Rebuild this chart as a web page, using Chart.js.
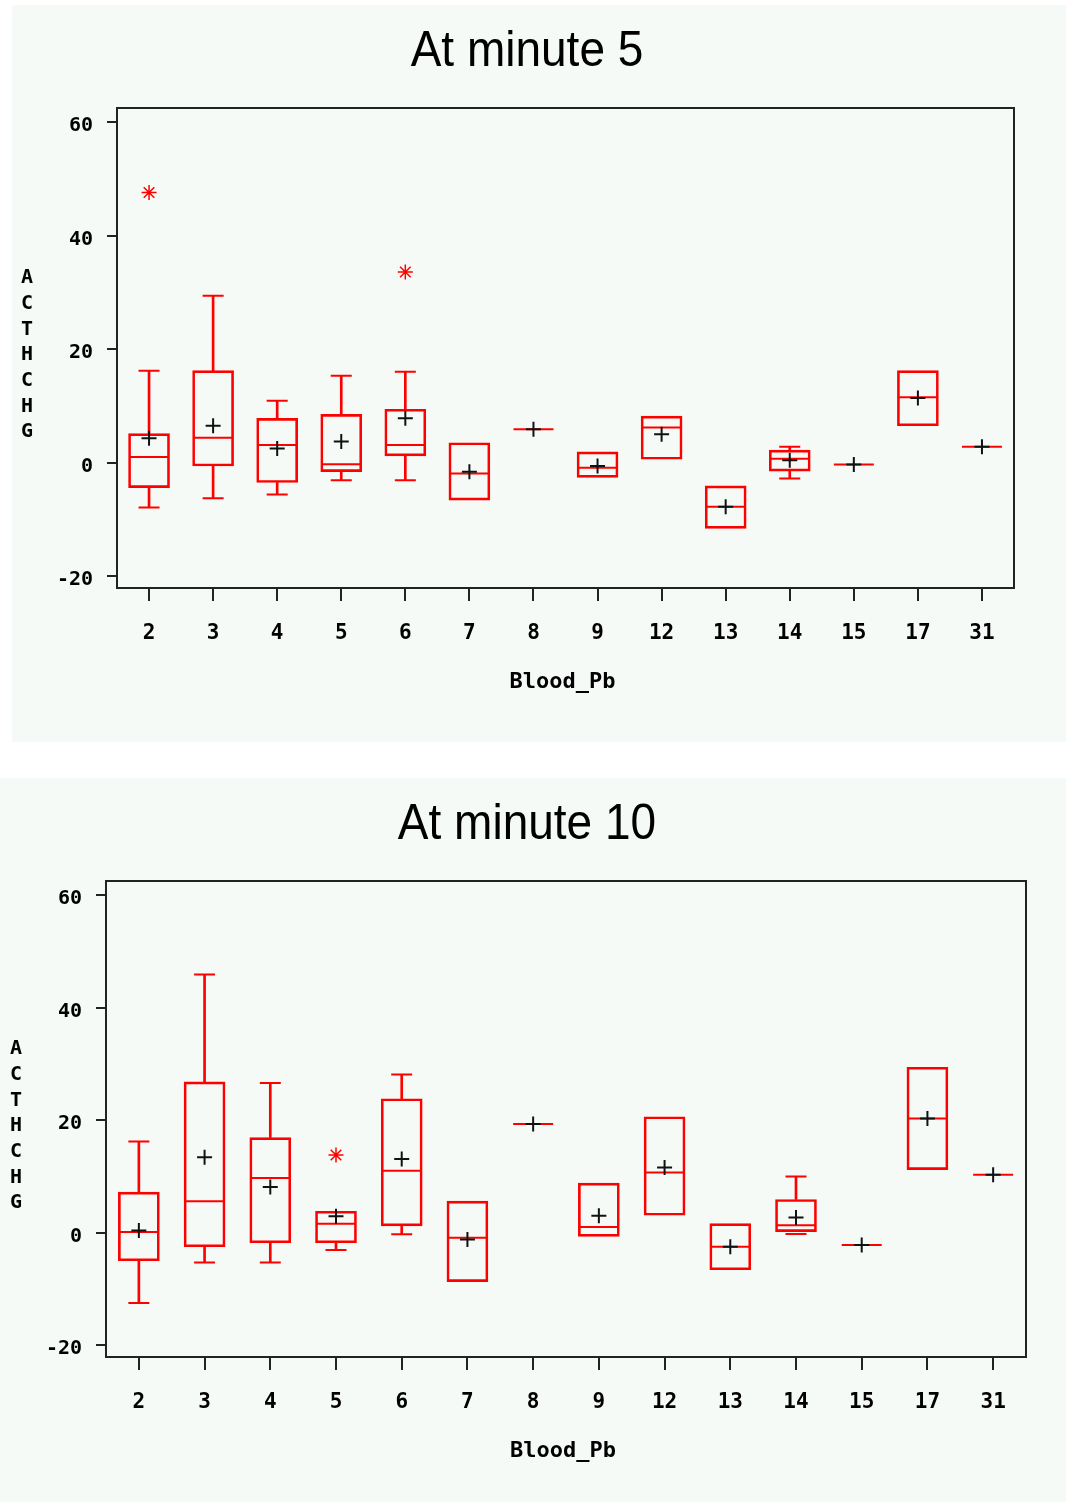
<!DOCTYPE html>
<html>
<head>
<meta charset="utf-8">
<title>ACTHCHG by Blood_Pb</title>
<script src="https://cdn.jsdelivr.net/npm/chart.js@4.4.1/dist/chart.umd.min.js"></script>
<style>
  html, body { margin: 0; padding: 0; background: #fff; }
  body { position: relative; width: 1066px; height: 1502px; overflow: hidden; }
  .panel { position: absolute; background: #f5faf7; }
  #panel5 { left: 12px; top: 5px; width: 1054px; height: 737px; }
  #panel10 { left: 0; top: 778px; width: 1066px; height: 724px; }
  canvas { display: block; }
</style>
</head>
<body>
<div class="panel" id="panel5"><canvas id="chart5" width="1054" height="737"></canvas></div>
<div class="panel" id="panel10"><canvas id="chart10" width="1066" height="724"></canvas></div>
<script>
// Blood lead groups on the x axis
const categories = ['2', '3', '4', '5', '6', '7', '8', '9', '12', '13', '14', '15', '17', '31'];
const yTicks = [-20, 0, 20, 40, 60];
const yMin = -22.1;
const yMax = 62.5;
const xTitle = 'Blood_Pb';
const yTitle = 'ACTHCHG';

// minute 5 summary per group
const min5    = [-7.9, -6.3, -5.6, -3.1, -3.1, -6.6, 5.9, -2.6, 0.6, -11.6, -2.8, -0.35, 6.5, 2.8];
const q1_5    = [-4.4, -0.6, -3.5, -1.6, 1.2, -6.6, 5.9, -2.6, 0.6, -11.6, -1.5, -0.35, 6.5, 2.8];
const median5 = [1.0, 4.4, 3.1, -0.3, 3.1, -1.9, 5.9, -0.9, 6.2, -7.8, 0.7, -0.35, 11.5, 2.8];
const q3_5    = [5.1, 16.2, 7.8, 8.5, 9.4, 3.5, 5.9, 1.9, 8.2, -4.1, 2.2, -0.35, 16.2, 2.8];
const max5    = [16.2, 29.4, 10.9, 15.3, 16.0, 3.5, 5.9, 1.9, 8.2, -4.1, 2.8, -0.35, 16.2, 2.8];
const mean5   = [4.3, 6.5, 2.5, 3.7, 7.8, -1.6, 5.9, -0.6, 5.0, -7.8, 0.4, -0.35, 11.4, 2.8];
const out5    = [47.6, null, null, null, 33.6, null, null, null, null, null, null, null, null, null];

// minute 10 summary per group
const min10    = [-12.5, -5.3, -5.3, -3.1, -0.3, -8.7, 19.3, -0.65, 3.1, -6.6, -0.25, -2.2, 11.2, 10.3];
const q1_10    = [-5.0, -2.5, -1.8, -1.8, 1.2, -8.7, 19.3, -0.65, 3.1, -6.6, 0.0, -2.2, 11.2, 10.3];
const median10 = [0.1, 5.6, 9.7, 1.6, 11.0, -0.9, 19.3, 1.0, 10.7, -2.5, 1.3, -2.2, 20.3, 10.3];
const q3_10    = [7.2, 26.8, 16.9, 3.8, 23.8, 5.6, 19.3, 8.8, 20.6, 1.6, 5.9, -2.2, 29.4, 10.3];
const max10    = [16.2, 45.9, 26.6, 3.8, 28.1, 5.6, 19.3, 8.8, 20.6, 1.6, 10.0, -2.2, 29.4, 10.3];
const mean10   = [0.4, 13.4, 8.1, 2.9, 13.1, -1.2, 19.3, 3.0, 11.6, -2.5, 2.7, -2.2, 20.3, 10.3];
const out10    = [null, null, null, 13.8, null, null, null, null, null, null, null, null, null, null];

const RED = '#ff0000';
const INK = '#111111';
const MONO = '"DejaVu Sans Mono", monospace';

// frame, title, stacked y label and x label
const panelText = {
  id: 'panelText',
  afterDraw(chart, args, opts) {
    const { ctx, chartArea: a } = chart;
    ctx.save();
    ctx.strokeStyle = '#222';
    ctx.lineWidth = 2;
    ctx.strokeRect(a.left, a.top, a.right - a.left, a.bottom - a.top);

    ctx.fillStyle = '#000';
    ctx.save();
    ctx.translate(opts.titleX, a.top - 42);
    ctx.scale(0.92, 1);
    ctx.font = '50px "Liberation Sans", Arial, sans-serif';
    ctx.textAlign = 'center';
    ctx.textBaseline = 'alphabetic';
    ctx.fillText(opts.title, 0, 0);
    ctx.restore();

    ctx.font = 'bold 20px ' + MONO;
    ctx.textAlign = 'center';
    ctx.textBaseline = 'middle';
    const mid = (a.top + a.bottom) / 2 + 7;
    const letters = [...yTitle];
    letters.forEach((ch, i) => {
      ctx.fillText(ch, a.left - 90, mid + (i - (letters.length - 1) / 2) * 25.7);
    });

    ctx.font = 'bold 22px ' + MONO;
    ctx.fillText(xTitle, (a.left + a.right) / 2 - 3, a.bottom + 94);
    ctx.restore();
  }
};

function points(data, style, radius, color, width) {
  return {
    type: 'line', data, showLine: false,
    pointStyle: style, pointRadius: radius,
    pointBorderColor: color, pointBackgroundColor: color, pointBorderWidth: width
  };
}

function boxDatasets(s) {
  const boxes = s.q1.map((v, i) => s.q3[i] > v ? [v, s.q3[i]] : null);
  const upper = s.max.map((v, i) => v > s.q3[i] ? [s.q3[i], v] : null);
  const lower = s.min.map((v, i) => v < s.q1[i] ? [v, s.q1[i]] : null);
  const capHi = s.max.map((v, i) => v > s.q3[i] ? v : null);
  const capLo = s.min.map((v, i) => v < s.q1[i] ? v : null);
  return [
    points(s.mean, 'cross', 7.5, INK, 2),
    points(s.outliers, 'star', 7.5, RED, 1.5),
    points(s.median, 'line', 20, RED, 2),
    points(capHi, 'line', 10.5, RED, 2),
    points(capLo, 'line', 10.5, RED, 2),
    { type: 'bar', data: upper, backgroundColor: RED, borderWidth: 0, barThickness: 2, grouped: false },
    { type: 'bar', data: lower, backgroundColor: RED, borderWidth: 0, barThickness: 2, grouped: false },
    { type: 'bar', data: boxes, backgroundColor: 'rgba(0,0,0,0)', borderColor: RED, borderWidth: 2,
      borderSkipped: false, barThickness: 41, grouped: false }
  ];
}

function makeChart(id, title, stats, layout) {
  const tickGrid = len => ({
    display: true, offset: false, drawOnChartArea: false, drawTicks: true,
    tickLength: len, color: '#222', lineWidth: 2
  });
  return new Chart(document.getElementById(id), {
    type: 'bar',
    data: { labels: categories, datasets: boxDatasets(stats) },
    options: {
      responsive: false,
      animation: false,
      events: [],
      layout: { padding: { top: layout.top, right: layout.right, left: 0, bottom: 0 } },
      plugins: {
        legend: { display: false },
        tooltip: { enabled: false },
        panelText: { title, titleX: layout.titleX }
      },
      scales: {
        x: {
          type: 'category',
          offset: true,
          grid: tickGrid(13),
          border: { display: false },
          ticks: { color: '#000', font: { family: MONO, size: 21, weight: 'bold' }, padding: 20, maxRotation: 0, autoSkip: false },
          afterFit: ax => { ax.height = layout.xHeight; }
        },
        y: {
          type: 'linear',
          min: yMin,
          max: yMax,
          grid: tickGrid(10),
          border: { display: false },
          ticks: { color: '#000', font: { family: MONO, size: 20, weight: 'bold' }, padding: 14, labelOffset: 4 },
          afterBuildTicks: ax => { ax.ticks = yTicks.map(value => ({ value })); },
          afterFit: ax => { ax.width = layout.yWidth; }
        }
      }
    },
    plugins: [panelText]
  });
}

makeChart('chart5', 'At minute 5',
  { min: min5, q1: q1_5, median: median5, q3: q3_5, max: max5, mean: mean5, outliers: out5 },
  { top: 103, right: 52, yWidth: 105, xHeight: 154, titleX: 515 });

makeChart('chart10', 'At minute 10',
  { min: min10, q1: q1_10, median: median10, q3: q3_10, max: max10, mean: mean10, outliers: out10 },
  { top: 103, right: 40, yWidth: 106, xHeight: 145, titleX: 527 });
</script>
</body>
</html>
